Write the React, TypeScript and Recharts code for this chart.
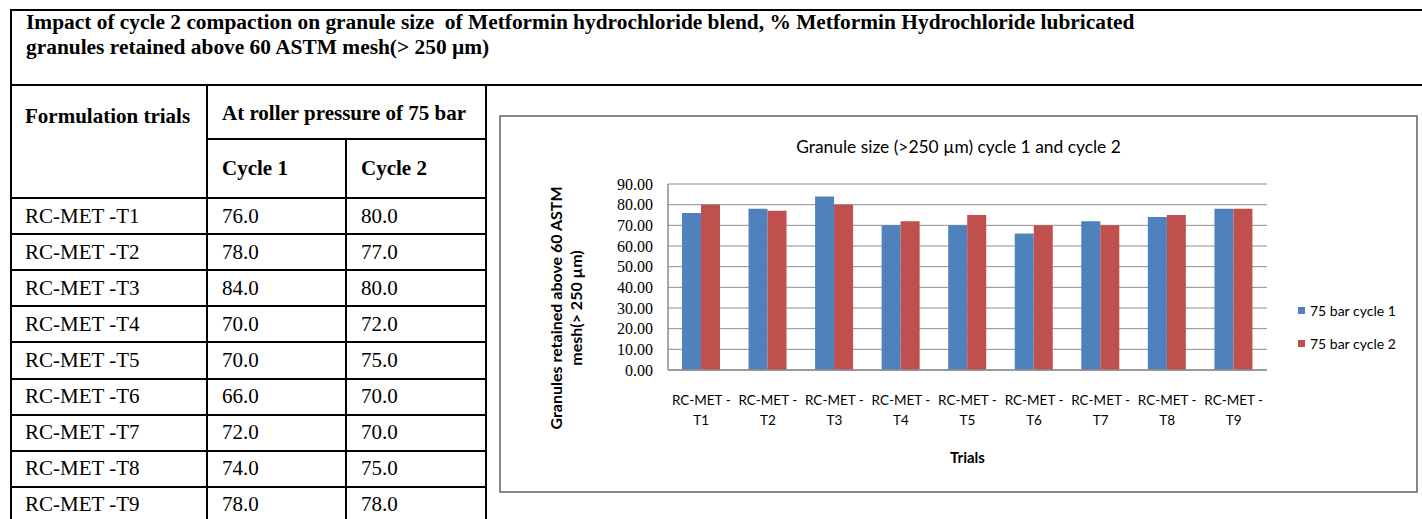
import React from "react";
import { BarChart, Bar, XAxis, YAxis, CartesianGrid, Legend, Label } from "recharts";

const trials = [
  "RC-MET -T1",
  "RC-MET -T2",
  "RC-MET -T3",
  "RC-MET -T4",
  "RC-MET -T5",
  "RC-MET -T6",
  "RC-MET -T7",
  "RC-MET -T8",
  "RC-MET -T9",
];
const cycle1 = [76, 78, 84, 70, 70, 66, 72, 74, 78];
const cycle2 = [80, 77, 80, 72, 75, 70, 70, 75, 78];
const yTicks = [0, 10, 20, 30, 40, 50, 60, 70, 80, 90];
const seriesNames = ["75 bar cycle 1", "75 bar cycle 2"];

const chartData = trials.map((trial, i) => ({
  trial,
  c1: cycle1[i],
  c2: cycle2[i],
}));

const SERIF = '"Liberation Serif", "Times New Roman", serif';
const SANS = 'Lato, "Open Sans", sans-serif';
const BLUE = "#4f81bd";
const RED = "#c0504d";
const GRID = "#8c8c8c";

function HLine({ x, y, w }: { x: number; y: number; w: number }) {
  return (
    <div
      style={{ position: "absolute", left: x, top: y - 1, width: w, height: 2, background: "#000" }}
    />
  );
}

function VLine({ x, y, h }: { x: number; y: number; h: number }) {
  return (
    <div
      style={{ position: "absolute", left: x - 1, top: y, width: 2, height: h, background: "#000" }}
    />
  );
}

function Cell({
  x,
  y,
  h,
  bold,
  children,
}: {
  x: number;
  y: number;
  h: number;
  bold?: boolean;
  children: React.ReactNode;
}) {
  return (
    <div
      style={{
        position: "absolute",
        left: x,
        top: y,
        height: h,
        display: "flex",
        alignItems: "center",
        fontFamily: SERIF,
        fontSize: 21,
        fontWeight: bold ? "bold" : "normal",
        whiteSpace: "nowrap",
        color: "#000",
      }}
    >
      {children}
    </div>
  );
}

function TrialTick({ x, y, payload }: any) {
  const s = String(payload.value);
  const cut = s.lastIndexOf("-") + 1;
  return (
    <g transform={`translate(${x},${y})`}>
      <text textAnchor="middle" fontFamily={SANS} fontSize={13.5} fill="#000">
        <tspan x={0} y={35}>
          {s.slice(0, cut)}
        </tspan>
        <tspan x={0} y={55}>
          {s.slice(cut)}
        </tspan>
      </text>
    </g>
  );
}

function ValueTick({ x, y, payload }: any) {
  return (
    <text
      x={x}
      y={y}
      textAnchor="end"
      dominantBaseline="central"
      fontFamily={SERIF}
      fontSize={16}
      fill="#000"
    >
      {Number(payload.value).toFixed(2)}
    </text>
  );
}

function YTitle({ viewBox }: any) {
  const cy = viewBox.y + viewBox.height / 2 + 31;
  const common = {
    textAnchor: "middle" as const,
    dominantBaseline: "central" as const,
    fontFamily: SANS,
    fontWeight: "bold",
    fontSize: 16,
    fill: "#000",
  };
  return (
    <g>
      <text transform={`translate(55,${cy}) rotate(-90)`} {...common}>
        Granules retained above 60 ASTM
      </text>
      <text transform={`translate(75,${cy}) rotate(-90)`} {...common}>
        mesh(&gt; 250 µm)
      </text>
    </g>
  );
}

function XTitle({ viewBox }: any) {
  return (
    <text
      x={viewBox.x + viewBox.width / 2}
      y={viewBox.y + 87}
      textAnchor="middle"
      dominantBaseline="central"
      fontFamily={SANS}
      fontWeight="bold"
      fontSize={15}
      fill="#000"
    >
      Trials
    </text>
  );
}

function LegendBox({ payload }: any) {
  return (
    <div>
      {(payload || []).map((p: any) => (
        <div
          key={p.value}
          style={{ display: "flex", alignItems: "center", height: 33, whiteSpace: "nowrap" }}
        >
          <span
            style={{ width: 7, height: 7, background: p.color, marginRight: 5, display: "inline-block" }}
          />
          <span style={{ fontFamily: SANS, fontSize: 14, color: "#000" }}>{p.value}</span>
        </div>
      ))}
    </div>
  );
}

export default function App() {
  const rowTop = (i: number) => 198 + i * 36.1;
  const rowLines = trials.map((_, i) => rowTop(i));

  return (
    <div
      style={{
        position: "absolute",
        left: 0,
        top: 0,
        width: 1422,
        height: 519,
        overflow: "hidden",
        background: "#fff",
      }}
    >
      {/* table frame */}
      <HLine x={10} y={10} w={1420} />
      <HLine x={10} y={85} w={1420} />
      <VLine x={11} y={9} h={520} />
      <VLine x={206.5} y={85} h={440} />
      <VLine x={346} y={139} h={390} />
      <VLine x={485.5} y={85} h={440} />
      <HLine x={206} y={139} w={280} />
      {rowLines.map((y) => (
        <HLine key={y} x={10} y={y} w={476} />
      ))}
      <HLine x={10} y={rowTop(9)} w={476} />

      <div
        style={{
          position: "absolute",
          left: 26,
          top: 10,
          fontFamily: SERIF,
          fontSize: 21.4,
          lineHeight: "25px",
          fontWeight: "bold",
          whiteSpace: "pre",
          color: "#000",
        }}
      >
        {"Impact of cycle 2 compaction on granule size  of Metformin hydrochloride blend, % Metformin Hydrochloride lubricated\ngranules retained above 60 ASTM mesh(> 250 µm)"}
      </div>

      <Cell x={25} y={88} h={56} bold>
        Formulation trials
      </Cell>
      <Cell x={222} y={88} h={51} bold>
        At roller pressure of 75 bar
      </Cell>
      <Cell x={222} y={139} h={59} bold>
        Cycle 1
      </Cell>
      <Cell x={361} y={139} h={59} bold>
        Cycle 2
      </Cell>
      {trials.map((t, i) => (
        <React.Fragment key={t}>
          <Cell x={25} y={rowTop(i)} h={36}>
            {t}
          </Cell>
          <Cell x={222} y={rowTop(i)} h={36}>
            {cycle1[i].toFixed(1)}
          </Cell>
          <Cell x={361} y={rowTop(i)} h={36}>
            {cycle2[i].toFixed(1)}
          </Cell>
        </React.Fragment>
      ))}

      {/* chart box */}
      <div
        style={{
          position: "absolute",
          left: 499,
          top: 115,
          width: 919,
          height: 378,
          border: "2px solid #878787",
          boxSizing: "border-box",
        }}
      />
      <div
        style={{
          position: "absolute",
          left: 500,
          top: 136,
          width: 917,
          textAlign: "center",
          fontFamily: SANS,
          fontSize: 17.4,
          color: "#000",
        }}
      >
        Granule size (&gt;250 µm) cycle 1 and cycle 2
      </div>
      <div style={{ position: "absolute", left: 500, top: 116 }}>
        <BarChart
          width={917}
          height={376}
          data={chartData}
          margin={{ top: 68, right: 150, bottom: 62, left: 108 }}
          barCategoryGap="21%"
          barGap={0}
        >
          <CartesianGrid vertical={false} stroke={GRID} strokeWidth={1} />
          <XAxis
            dataKey="trial"
            height={60}
            interval={0}
            tickLine={false}
            tickSize={0}
            tickMargin={0}
            axisLine={{ stroke: GRID, strokeWidth: 1.5 }}
            tick={<TrialTick />}
          >
            <Label content={<XTitle />} />
          </XAxis>
          <YAxis
            width={60}
            domain={[0, 90]}
            ticks={yTicks}
            interval={0}
            tickLine={false}
            tickSize={0}
            tickMargin={15}
            axisLine={{ stroke: GRID, strokeWidth: 1.5 }}
            tick={<ValueTick />}
          >
            <Label content={<YTitle />} />
          </YAxis>
          <Legend
            layout="vertical"
            align="center"
            verticalAlign="middle"
            wrapperStyle={{ left: 798, top: 177.5, width: 115 }}
            content={<LegendBox />}
          />
          <Bar dataKey="c1" name={seriesNames[0]} fill={BLUE} isAnimationActive={false} />
          <Bar dataKey="c2" name={seriesNames[1]} fill={RED} isAnimationActive={false} />
        </BarChart>
      </div>
    </div>
  );
}
